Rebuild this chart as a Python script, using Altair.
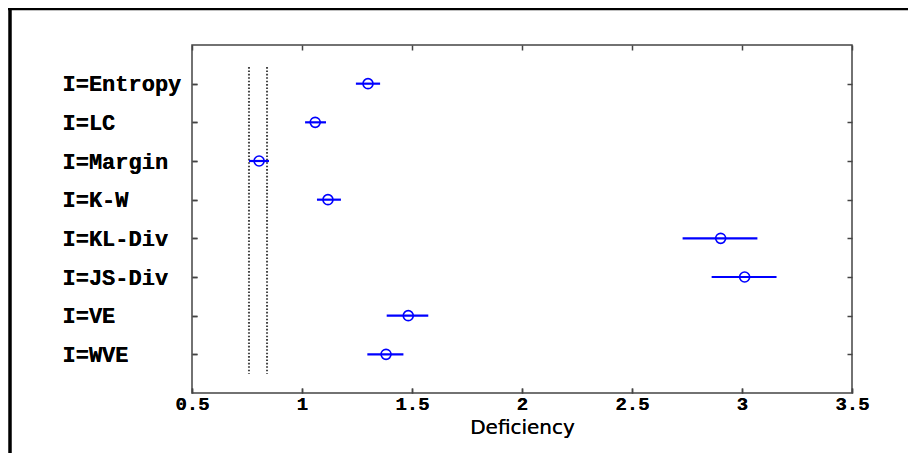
import altair as alt
import pandas as pd

# Data
methods = ["I=Entropy", "I=LC", "I=Margin", "I=K-W", "I=KL-Div", "I=JS-Div", "I=VE", "I=WVE"]
center = [1.30, 1.06, 0.805, 1.118, 2.903, 3.012, 1.483, 1.382]
low = [1.245, 1.014, 0.759, 1.068, 2.73, 2.862, 1.385, 1.297]
high = [1.355, 1.109, 0.85, 1.177, 3.07, 3.157, 1.574, 1.461]
ref_lines = [0.759, 0.841]
x_ticks = [0.5, 1, 1.5, 2, 2.5, 3, 3.5]

n = len(methods)
positions = [n - i for i in range(n)]  # top to bottom
df = pd.DataFrame({"method": methods, "pos": positions, "c": center, "lo": low, "hi": high})
ref_df = pd.DataFrame({"x": ref_lines, "y1": [8.43, 8.43], "y2": [0.5, 0.5]})
one = pd.DataFrame({"a": [0]})

label_list = [""] + list(reversed(methods)) + [""]
label_expr = "[" + ",".join("'" + s + "'" for s in label_list) + "][datum.value]"

W, H = 660, 348
PL, PT, PR, PB = 184, 37, 56, 60

xscale = alt.Scale(domain=[0.5, 3.5], nice=False, zero=False)
yscale = alt.Scale(domain=[0, 9], nice=False, zero=False)

AX = dict(grid=False, domain=False, ticks=True, tickSize=5, offset=-5,
          tickColor="#444", tickWidth=1.5, labelFlush=False, labelOverlap=False)

x_bottom = alt.Axis(values=x_ticks, orient="bottom", title="Deficiency",
                    labelFont="Liberation Mono", labelFontWeight="bold", labelFontSize=19,
                    labelColor="black", labelPadding=1,
                    labelExpr="datum.value == 1 ? '1' : datum.value == 2 ? '2' : datum.value == 3 ? '3' : format(datum.value, '.1f')",
                    titleFont="DejaVu Sans", titleFontSize=20, titleFontWeight=500,
                    titleColor="black", titlePadding=4, **AX)
y_left = alt.Axis(values=positions, orient="left", title=None, labelExpr=label_expr,
                  labelFont="Liberation Mono", labelFontWeight="bold", labelFontSize=22,
                  labelColor="black", labelAlign="left", labelPadding=130, **AX)
x_top = alt.Axis(values=x_ticks, orient="top", title=None, labels=False, **AX)
y_right = alt.Axis(values=positions, orient="right", title=None, labels=False, **AX)

bars = alt.Chart(df).mark_rule(color="#0000ff", strokeWidth=2.2).encode(
    x=alt.X("lo:Q", scale=xscale, axis=x_bottom),
    x2="hi:Q",
    y=alt.Y("pos:Q", scale=yscale, axis=y_left),
)
pts = alt.Chart(df).mark_point(shape="circle", filled=False, color="#0000ff",
                               size=100, strokeWidth=1.6, opacity=1).encode(
    x=alt.X("c:Q", scale=xscale, axis=x_bottom),
    y=alt.Y("pos:Q", scale=yscale, axis=y_left),
)
refs = alt.Chart(ref_df).mark_rule(color="#444", strokeWidth=2, strokeDash=[1.6, 1.8]).encode(
    x=alt.X("x:Q", scale=xscale, axis=x_top),
    y=alt.Y("y1:Q", scale=yscale, axis=y_right),
    y2="y2:Q",
)

frame_left = alt.Chart(one).mark_rule(color="black", strokeWidth=3.5).encode(
    x=alt.value(-182), y=alt.value(-PT), y2=alt.value(H + PB))
frame_top = alt.Chart(one).mark_rule(color="black", strokeWidth=3.5).encode(
    x=alt.value(-PL), x2=alt.value(W + PR), y=alt.value(-36.5))

chart = alt.layer(refs, bars, pts, frame_left, frame_top).resolve_axis(
    x="independent", y="independent"
).properties(
    width=W, height=H,
    padding={"left": PL, "top": PT, "right": PR, "bottom": PB},
    autosize=alt.AutoSizeParams(type="none"),
    background="white",
).configure_view(stroke="#444", strokeWidth=1.5)

chart.save("out.html", embed_options={"renderer": "svg", "actions": False})
